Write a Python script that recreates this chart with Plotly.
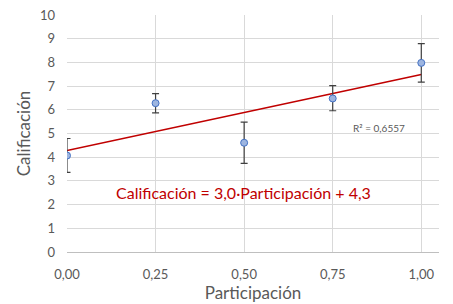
import numpy as np
import plotly.graph_objects as go

participacion = [0.00, 0.25, 0.50, 0.75, 1.00]
calificacion = [4.07, 6.28, 4.61, 6.48, 7.98]
err_plus = [0.72, 0.40, 0.87, 0.54, 0.81]
err_minus = [0.71, 0.41, 0.87, 0.52, 0.81]
y_ticks = [0, 1, 2, 3, 4, 5, 6, 7, 8, 9, 10]
eq_text = "Calificación = 3,0·Participación + 4,3"
r2_text = "R² = 0,6557"

slope, intercept = np.polyfit(participacion, calificacion, 1)
trend_x = [participacion[0], participacion[-1]]
trend_y = [intercept + slope * v for v in trend_x]

font_family = "Lato, 'Open Sans', sans-serif"

fig = go.Figure()
fig.add_trace(go.Scatter(
    x=trend_x, y=trend_y, mode="lines",
    line=dict(color="#C00000", width=1.6), hoverinfo="skip", showlegend=False))
fig.add_trace(go.Scatter(
    x=participacion, y=calificacion, mode="markers",
    marker=dict(size=7, color="#9DB5E0", line=dict(color="#4472C4", width=1)),
    error_y=dict(type="data", array=err_plus, arrayminus=err_minus,
                 color="#404040", thickness=1.2, width=3.5),
    showlegend=False))

fig.add_annotation(x=0.497, y=2.5, xref="x", yref="y", text=eq_text,
                   showarrow=False, font=dict(family=font_family, size=16, color="#C00000"))
fig.add_annotation(x=0.88, y=5.24, xref="x", yref="y", text=r2_text,
                   showarrow=False, font=dict(family=font_family, size=10, color="#595959"))

fig.update_layout(
    width=453, height=304,
    margin=dict(l=67, r=14, t=7, b=49),
    paper_bgcolor="white", plot_bgcolor="white",
    separators=",.",
    font=dict(family=font_family, color="#595959"),
    xaxis=dict(range=[0, 1.05], tickvals=participacion, tickformat=".2f",
               showgrid=True, gridcolor="#D9D9D9", gridwidth=1,
               zeroline=False, showline=True, linecolor="#BFBFBF", linewidth=1,
               tickfont=dict(size=13, color="#595959"), ticks="",
               ticklabelstandoff=10, ticklabeloverflow="allow",
               title=dict(text="Participación", font=dict(size=17, color="#595959"), standoff=4)),
    yaxis=dict(range=[0, 10.001], tickvals=y_ticks,
               showgrid=True, gridcolor="#D9D9D9", gridwidth=1,
               zeroline=False, showline=False,
               tickfont=dict(size=13, color="#595959"), ticks="",
               ticklabelstandoff=11, ticklabeloverflow="allow",
               title=dict(text="Calificación", font=dict(size=17, color="#595959"), standoff=4)),
)

fig.write_html("out.html", config={"displayModeBar": False},
               post_script="document.body.style.margin='0';")
